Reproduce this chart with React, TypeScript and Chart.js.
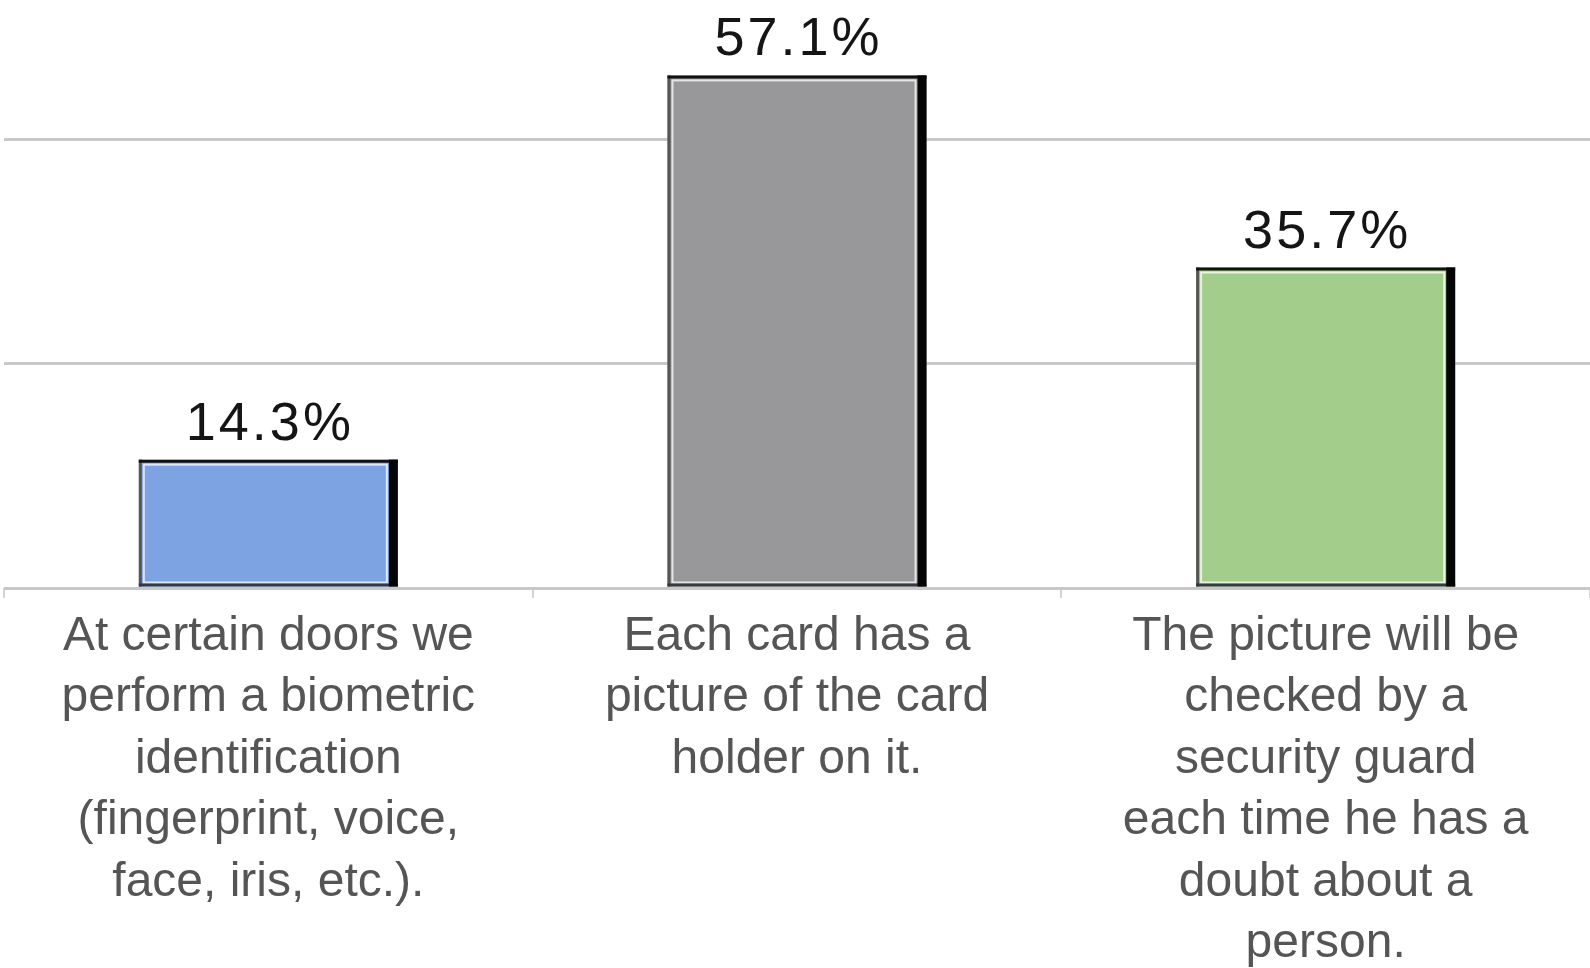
import React, { useEffect, useRef } from "react";
import { Chart, registerables } from "chart.js";

Chart.register(...registerables);

const categories: string[][] = [
  ["At certain doors we", "perform a biometric", "identification", "(fingerprint, voice,", "face, iris, etc.)."],
  ["Each card has a", "picture of the card", "holder on it."],
  ["The picture will be", "checked by a", "security guard", "each time he has a", "doubt about a", "person."],
];
const values = [14.3, 57.1, 35.7];
const valueLabels = ["14.3%", "57.1%", "35.7%"];
const barColors = ["#7ea3e3", "#98989a", "#a2cd8a"];
const gridValues = [0, 25, 50];

const FONT = "'Liberation Sans', Arial, sans-serif";

const barDecor = {
  id: "barDecor",
  afterDatasetsDraw(chart: any) {
    const ctx = chart.ctx as CanvasRenderingContext2D;
    const meta = chart.getDatasetMeta(0);
    meta.data.forEach((bar: any, i: number) => {
      const p = bar.getProps(["x", "y", "base", "width"], true);
      const l = p.x - p.width / 2;
      const r = p.x + p.width / 2;
      const t = p.y;
      const b = p.base;
      ctx.save();
      // inner white line
      ctx.strokeStyle = "rgba(255,255,255,0.75)";
      ctx.lineWidth = 2;
      ctx.strokeRect(l + 5, t + 5, r - l - 16, b - t - 9);
      // outer outline
      ctx.lineWidth = 3;
      ctx.strokeStyle = "#555";
      ctx.beginPath();
      ctx.moveTo(l + 1.5, b);
      ctx.lineTo(l + 1.5, t);
      ctx.stroke();
      ctx.strokeStyle = "#111";
      ctx.beginPath();
      ctx.moveTo(l, t + 1.5);
      ctx.lineTo(r, t + 1.5);
      ctx.stroke();
      ctx.strokeStyle = "#333a44";
      ctx.beginPath();
      ctx.moveTo(l, b - 1.5);
      ctx.lineTo(r, b - 1.5);
      ctx.stroke();
      // right shadow
      ctx.fillStyle = "#050505";
      ctx.fillRect(r - 9, t, 9, b - t);
      // value label
      ctx.fillStyle = "#151515";
      ctx.font = `54px ${FONT}`;
      (ctx as any).letterSpacing = "3px";
      ctx.textAlign = "center";
      ctx.textBaseline = "alphabetic";
      ctx.fillText(valueLabels[i], p.x + 1.5, t - 20);
      ctx.restore();
    });
  },
};

export default function App() {
  const canvasRef = useRef<HTMLCanvasElement | null>(null);

  useEffect(() => {
    document.body.style.margin = "0";
    const canvas = canvasRef.current;
    if (!canvas) return;
    const chart = new Chart(canvas, {
      type: "bar",
      data: {
        labels: categories,
        datasets: [
          {
            data: values,
            backgroundColor: barColors,
            borderWidth: 0,
            barPercentage: 0.49,
            categoryPercentage: 1,
          },
        ],
      },
      options: {
        animation: false,
        responsive: true,
        maintainAspectRatio: false,
        layout: { padding: { left: 4, right: 0, top: 0, bottom: 0 } },
        plugins: {
          legend: { display: false },
          tooltip: { enabled: false },
        },
        scales: {
          x: {
            afterFit: (scale: any) => {
              scale.height = 380;
            },
            grid: {
              display: true,
              drawOnChartArea: false,
              drawTicks: true,
              tickLength: 10,
              color: "#d4d4d4",
              lineWidth: 2,
            },
            border: { display: false },
            ticks: {
              color: "#555555",
              padding: 8,
              maxRotation: 0,
              minRotation: 0,
              autoSkip: false,
              font: { family: FONT, size: 48, lineHeight: "61.5px" },
            },
          },
          y: {
            min: 0,
            max: 65.5,
            afterBuildTicks: (scale: any) => {
              scale.ticks = gridValues.map((v) => ({ value: v }));
            },
            grid: {
              color: "#c8c8c8",
              lineWidth: 3,
              drawTicks: false,
            },
            border: { display: false },
            ticks: { display: false },
          },
        },
      },
      plugins: [barDecor],
    });
    return () => chart.destroy();
  }, []);

  return (
    <div style={{ width: 1590, height: 968, position: "relative", background: "#fff" }}>
      <canvas ref={canvasRef} />
    </div>
  );
}
